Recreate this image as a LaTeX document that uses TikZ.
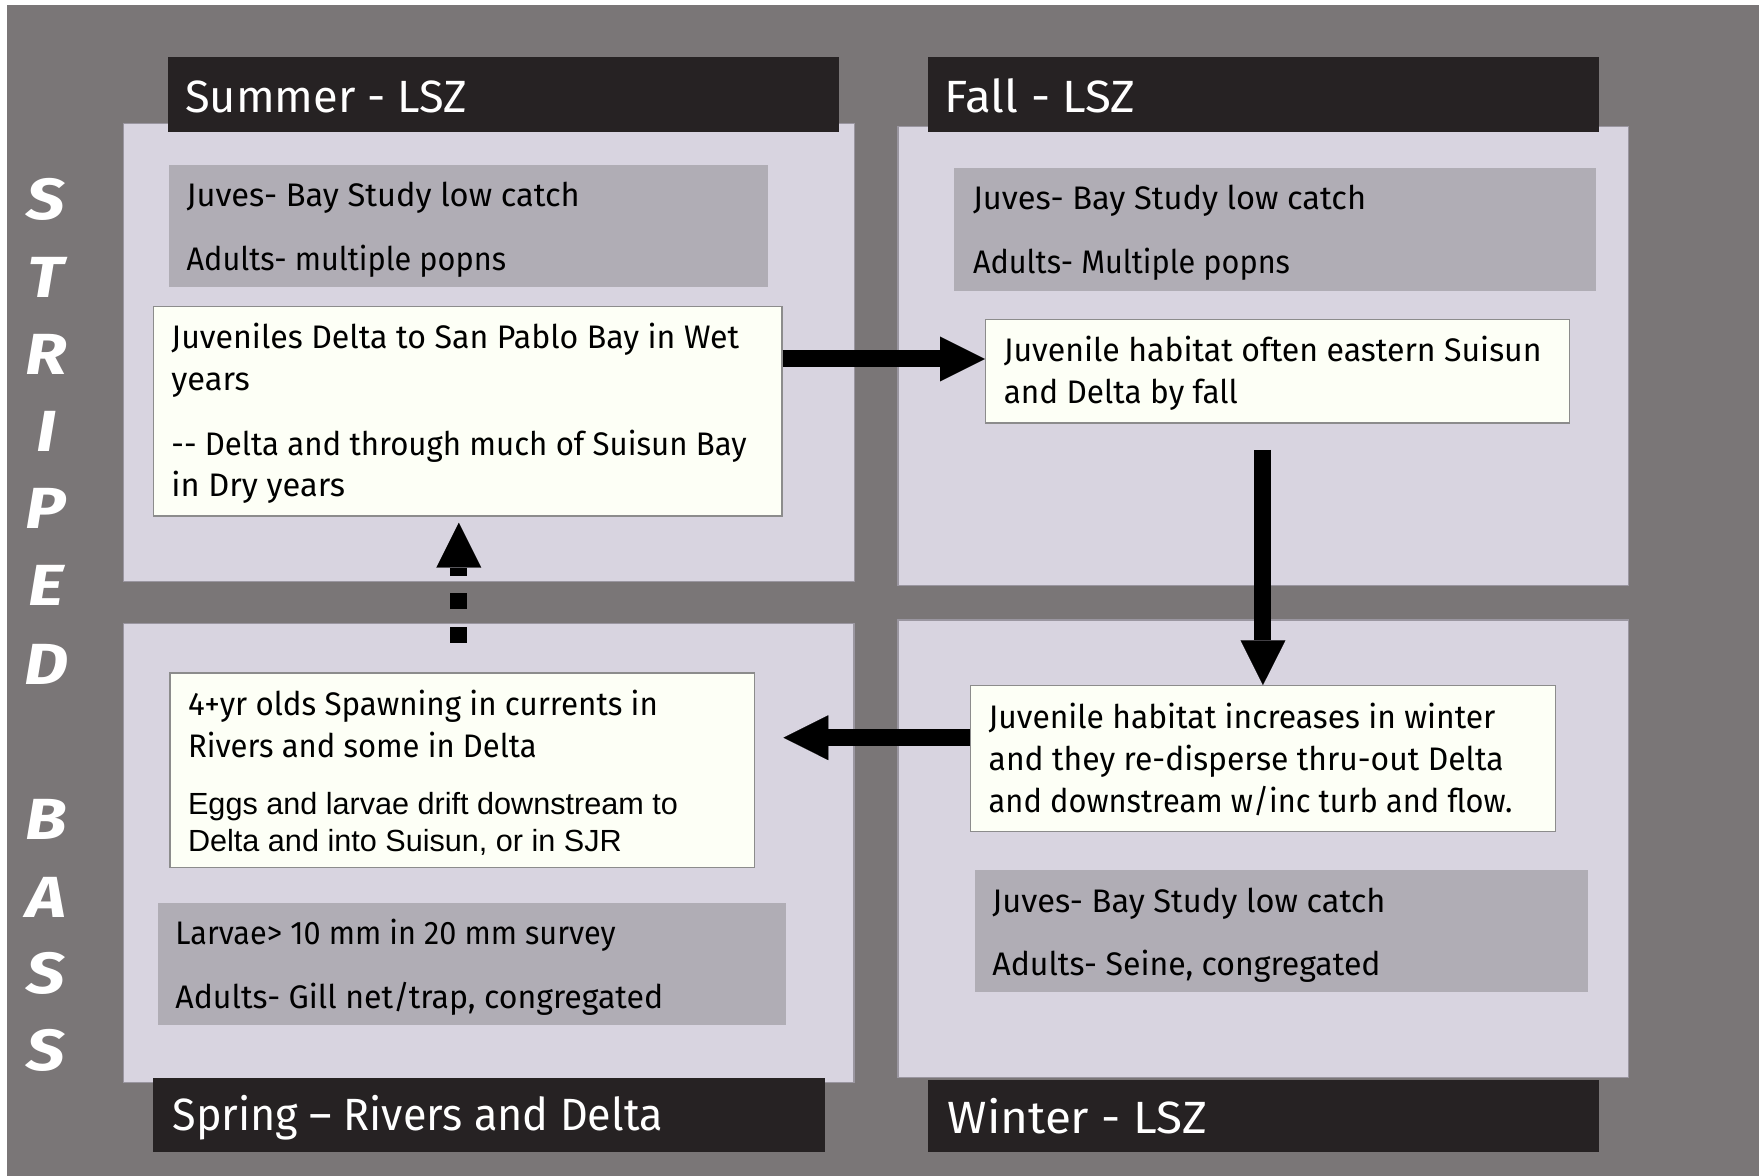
\documentclass[tikz,border=0pt]{standalone}
\usepackage{fontspec}
\setmainfont{Fira Sans}
\newfontfamily\arialf{Liberation Sans}
\usetikzlibrary{arrows.meta,fit}
\newcommand\hsq[2]{\scalebox{#1}[1]{#2}}
\definecolor{bgc}{HTML}{7A7677}
\definecolor{panelc}{HTML}{D8D4E0}
\definecolor{panelb}{HTML}{9A96A0}
\definecolor{grayc}{HTML}{B0ADB5}
\definecolor{whitec}{HTML}{FDFFF6}
\definecolor{whiteb}{HTML}{8C8C8C}
\definecolor{headc}{HTML}{262223}
\tikzset{
  panel/.style={fill=panelc,draw=panelb,line width=0.6pt,inner sep=0pt},
  headbox/.style={fill=headc,inner sep=0pt},
  graybox/.style={fill=grayc,inner sep=0pt},
  whitebox/.style={fill=whitec,draw=whiteb,line width=0.6pt,inner sep=0pt},
  txt/.style={anchor=base west,inner sep=0pt,font=\fontsize{16.3}{20}\selectfont,text=black},
  atxt/.style={anchor=base west,inner sep=0pt,font=\arialf\fontsize{15.3}{19}\selectfont,text=black},
  htxt/.style={anchor=base west,inner sep=0pt,font=\fontsize{22.6}{26}\selectfont,text=white},
  letter/.style={anchor=center,inner sep=0pt,font=\fontsize{29}{34}\selectfont\bfseries\itshape,text=white},
  bigarrow/.style={line width=8.5pt,draw=black,-{Triangle[length=22.4pt,width=22.4pt,line width=0.1pt]}},
  dasharrow/.style={bigarrow,dash pattern=on 7.85pt off 8.97pt}
}
\begin{document}
\begin{tikzpicture}[x=0.5609pt,y=-0.5609pt]
\useasboundingbox (0,0) rectangle (1568,1048.3);
\fill[white] (0,0) rectangle (1568,1048.3);
\fill[bgc] (6,4.5) rectangle (1568,1048.3);

% panels
\node[panel,fit={(110,110) (761.4,518)}] (sump) {};
\node[panel,fit={(800.4,112.7) (1451.6,521.7)}] (fallp) {};
\node[panel,fit={(110,556) (761.3,965)}] (sprp) {};
\node[panel,fit={(800.4,552.6) (1451.6,960.8)}] (winp) {};

% headers
\node[headbox,fit={(149.4,51.2) (748,117.8)}] (sumh) {};
\node[headbox,fit={(827,51.2) (1425,117.8)}] (fallh) {};
\node[headbox,fit={(136.6,961) (735.4,1027)}] (sprh) {};
\node[headbox,fit={(827,962.5) (1425,1027)}] (winh) {};
\node[htxt] (sumht) at (164.7,100.7) {Summer - LSZ};
\node[htxt] (fallht) at (842,100.7) {\hsq{1.05}{Fall - LSZ}};
\node[htxt] (sprht) at (153.5,1008) {\hsq{0.955}{Spring – Rivers and Delta}};
\node[htxt] (winht) at (844.4,1010) {\hsq{1.055}{Winter - LSZ}};

% gray boxes
\node[graybox,fit={(151,146.8) (684.6,255.4)}] (sumg) {};
\node[graybox,fit={(850.4,149.6) (1423,259.4)}] (fallg) {};
\node[graybox,fit={(140.7,805) (701,913.4)}] (sprg) {};
\node[graybox,fit={(869.4,775.2) (1415.2,883.9)}] (wing) {};

% white boxes
\node[whitebox,fit={(136.7,273) (697,460)}] (sumw) {};
\node[whitebox,fit={(878.4,285) (1399,377)}] (fallw) {};
\node[whitebox,fit={(151.5,600) (672.3,773.5)}] (sprw) {};
\node[whitebox,fit={(865.4,611.2) (1386.6,741.3)}] (winw) {};

% summer texts
\node[txt] (sg1) at (166,184) {Juves- Bay Study low catch};
\node[txt] (sg2) at (166,240.7) {\hsq{0.94}{Adults- multiple popns}};
\node[txt] (sw1) at (152.5,310.7) {\hsq{0.985}{Juveniles Delta to San Pablo Bay in Wet}};
\node[txt] (sw2) at (152.5,348) {years};
\node[txt] (sw3) at (152.5,406) {\hsq{0.957}{\mbox{-}\mbox{-} Delta and through much of Suisun Bay}};
\node[txt] (sw4) at (152.5,443) {in Dry years};

% fall texts
\node[txt] (fg1) at (867,187) {Juves- Bay Study low catch};
\node[txt] (fg2) at (867,244) {\hsq{0.94}{Adults- Multiple popns}};
\node[txt] (fw1) at (894.4,322.6) {\hsq{0.983}{Juvenile habitat often eastern Suisun}};
\node[txt] (fw2) at (894.4,360) {\hsq{0.968}{and Delta by fall}};

% winter texts
\node[txt] (ww1) at (881,649) {\hsq{0.976}{Juvenile habitat increases in winter}};
\node[txt] (ww2) at (881,686.4) {\hsq{0.977}{and they re-disperse thru-out Delta}};
\node[txt] (ww3) at (881,724.4) {\hsq{0.945}{and downstream w/inc turb and flow.}};
\node[txt] (wg1) at (884.3,813.4) {Juves- Bay Study low catch};
\node[txt] (wg2) at (884.3,869.3) {\hsq{0.983}{Adults- Seine, congregated}};

% spring texts
\node[txt] (pw1) at (167.3,637.4) {\hsq{0.961}{4+yr olds Spawning in currents in}};
\node[txt] (pw2) at (167.3,675.6) {\hsq{0.951}{Rivers and some in Delta}};
\node[atxt] (pw3) at (167.3,726.4) {Eggs and larvae drift downstream to};
\node[atxt] (pw4) at (167.3,759.3) {Delta and into Suisun, or in SJR};
\node[txt] (pg1) at (156,842.2) {\hsq{0.94}{Larvae> 10 mm in 20 mm survey}};
\node[txt] (pg2) at (156,899.2) {\hsq{0.984}{Adults- Gill net/trap, congregated}};

% vertical title
\foreach \ch/\yy [count=\i] in {S/178,T/247,R/316,I/385,P/453,E/522,D/592,B/730,A/800,S/868,S/936}
  \node[letter] (L\i) at (41,\yy) {\hsq{1.18}{\ch}};

% connectors
\coordinate (ra) at (0,320);
\draw[bigarrow] (sumw.east |- ra) -- (fallw.west |- ra);
\coordinate (dstart) at (1125.8,401);
\draw[bigarrow] (dstart) -- (winw.north -| dstart);
\coordinate (la) at (0,657.6);
\coordinate (lend) at (698.4,657.6);
\draw[bigarrow] (winw.west |- la) -- (lend);
\coordinate (ustart) at (409,573);
\coordinate (uend) at (409,466);
\draw[dasharrow] (ustart) -- (uend);
\end{tikzpicture}
\end{document}
